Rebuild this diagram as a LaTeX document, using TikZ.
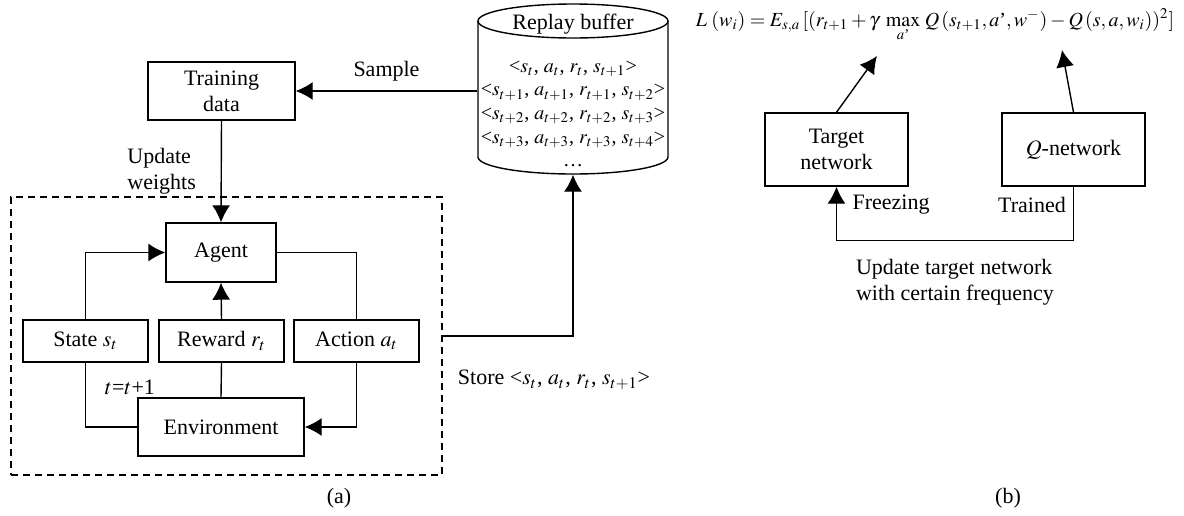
\documentclass[tikz,border=0pt]{standalone}
\usepackage{amsmath}
\usepackage{mathptmx}
\usepackage{fontspec}
\setmainfont{Liberation Serif}
\usetikzlibrary{arrows.meta}

\begin{document}
\begin{tikzpicture}[x=0.5pt,y=0.5pt,line width=0.7pt,
		>={Latex[length=8.5pt,width=9pt]},
		every node/.style={font=\fontsize{11}{13}\selectfont},
		box/.style={draw,align=center,inner sep=0pt},
		smallbox/.style={box,minimum width=62.5pt,minimum height=21pt},
		netbox/.style={box,minimum width=71.5pt,minimum height=36.5pt}]
		\useasboundingbox (0,0) rectangle (1184,-515);

		% replay buffer
		\node[minimum width=95pt,minimum height=85pt,inner sep=0pt] (buffer) at (573,-89) {};
		\draw (478,-21) -- (478,-157) arc (180:360:95 and 17) -- (668,-21);
		\draw (573,-21) ellipse (95 and 17);
		\node (bufname) at (573,-24) {Replay buffer};
		\node[align=center,font=\fontsize{10}{11.8}\selectfont] (tuples) at (573,-114) {<$s_t$, $a_t$, $r_t$, $s_{t+1}$>\\
			<$s_{t+1}$, $a_{t+1}$, $r_{t+1}$, $s_{t+2}$>\\
			<$s_{t+2}$, $a_{t+2}$, $r_{t+2}$, $s_{t+3}$>\\
			<$s_{t+3}$, $a_{t+3}$, $r_{t+3}$, $s_{t+4}$>\\
			\dots};

		% boxes (a)
		\node[box,minimum width=73.5pt,minimum height=29pt] (train) at (221.5,-91) {Training\\data};
		\node[box,minimum width=55pt,minimum height=29.5pt] (agent) at (221,-252.5) {Agent};
		\node[smallbox] (state) at (85.5,-341) {State $s_t$};
		\node[smallbox] (reward) at (221.5,-341) {Reward $r_t$};
		\node[smallbox] (action) at (356.5,-341) {Action $a_t$};
		\node[box,minimum width=83pt,minimum height=29pt] (env) at (221,-427) {Environment};
		\node[draw,dash pattern=on 3.5pt off 2.5pt,line width=0.6pt,minimum width=215.5pt,minimum height=139pt] (loop) at (226.5,-336) {};

		% arrows (a)
		\draw[->] (train.east -| buffer.west) -- node[above=1pt] (sample) {Sample} (train.east);
		\draw[->] (train.south) -- node[left=9pt,align=left] (upd) {Update\\weights} (agent.north);
		\draw[->] (state.north) |- (agent.west);
		\draw (agent.east) -| (action.north);
		\draw[->] (reward.north) -- (agent.south);
		\draw (state.south) |- (env.west);
		\draw (reward.south) -- (env.north);
		\draw[->] (action.south) |- (env.east);
		\node (tstep) at (130,-387) {$t$=$t$+1};
		\draw[->] (loop.east) -| (buffer.south);
		\node (store) at (554,-380) {Store <$s_t$, $a_t$, $r_t$, $s_{t+1}$>};

		% loss (b)
		\node[anchor=base,font=\fontsize{10}{12}\selectfont] (loss) at (935,-26) {$L\;(w_i) = E_{s,a}\,[(r_{t+1} + \gamma\; \max\limits_{a\text{’}}\, Q\,(s_{t+1}, a\text{’}, w^{-}) - Q\,(s, a, w_i))^2]$};
		\coordinate (lt) at (877,-56);
		\coordinate (lq) at (1062,-50);

		% networks (b)
		\node[netbox] (target) at (836.5,-149.5) {Target\\network};
		\node[netbox] (qnet) at (1073.5,-149.5) {$Q$-network};
		\draw[->] (target.north) -- (lt);
		\draw[->] (qnet.north) -- (lq);
		\draw[->] (qnet.south) -- ++(0,-54) -| (target.south);
		\node (freeze) at (891,-205) {Freezing};
		\node (trained) at (1032,-205) {Trained};
		\node[align=left] (updnet) at (955,-282) {Update target network\\with certain frequency};

		% captions
		\node (capa) at (339,-498) {(a)};
		\node (capb) at (1008,-498) {(b)};
\end{tikzpicture}
\end{document}
